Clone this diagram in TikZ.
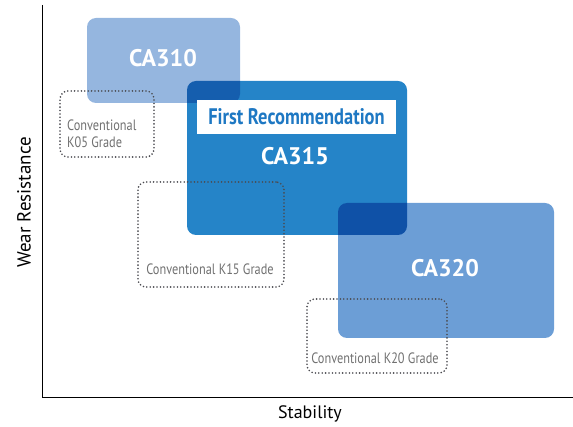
\documentclass[tikz,border=0pt]{standalone}
\usepackage{fontspec}
\setmainfont{PT Sans}
\newfontfamily\condfont[FakeStretch=0.82]{PT Sans}
\usetikzlibrary{positioning}
\definecolor{cLight}{RGB}{149,182,223}
\definecolor{cMid}{RGB}{37,132,200}
\definecolor{cSoft}{RGB}{108,158,214}
\definecolor{cDot}{RGB}{75,75,80}
\definecolor{cGrayText}{RGB}{112,112,112}
\definecolor{cRecText}{RGB}{30,120,195}
\tikzset{
  gradebox/.style={rectangle, rounded corners=9pt, draw=none, inner sep=0pt},
  dotbox/.style={rectangle, rounded corners=8pt, draw=cDot, line width=1.8pt,
    dash pattern=on 0pt off 3.4pt, line cap=round, inner sep=0pt},
  gradelabel/.style={text=white, font=\bfseries\fontsize{24}{28}\selectfont},
  convlabel/.style={text=cGrayText, font=\condfont\fontsize{15}{17.5}\selectfont, inner sep=0pt},
  axislabel/.style={text=black}
}
\begin{document}
\begin{tikzpicture}[x=1pt,y=-1pt]
\useasboundingbox (0,0) rectangle (573,427);
% grade boxes
\node[gradebox, fill=cLight, minimum width=153pt, minimum height=85pt] (b310) at (163.5,60.5) {};
\begin{scope}[blend mode=multiply]
\node[gradebox, fill=cMid, minimum width=220pt, minimum height=154pt] (b315) at (297,158) {};
\node[gradebox, fill=cSoft, minimum width=216pt, minimum height=135pt] (b320) at (446,270.5) {};
\end{scope}
% labels
\node[gradelabel] (t310) at (163,58) {CA310};
\node[gradelabel] (t315) at (295,156) {CA315};
\node[gradelabel] (t320) at (445,268) {CA320};
\node[fill=white, minimum width=199pt, minimum height=34pt, inner sep=0pt,
  text=cRecText, font=\condfont\bfseries\fontsize{22.5}{26}\selectfont] (rec) at (296.5,117) {First Recommendation};
% conventional grades
\node[dotbox, minimum width=94pt, minimum height=66pt] (k05) at (107,124) {};
\node[dotbox, minimum width=146pt, minimum height=105pt] (k15) at (211,234.5) {};
\node[dotbox, minimum width=140pt, minimum height=74pt] (k20) at (377,336) {};
\node[convlabel, align=left, anchor=west] (tk05) at (67,134) {Conventional\\K05 Grade};
\node[convlabel] (tk15) at (210,269) {Conventional K15 Grade};
\node[convlabel] (tk20) at (375,358) {Conventional K20 Grade};
% axes
\coordinate (ytop) at (42,5);
\coordinate (orig) at (42,398);
\coordinate (xend) at (573,398);
\draw[line width=1pt, black] (ytop) -- (orig) -- (xend);
\node[axislabel, font=\fontsize{18}{21}\selectfont] (xl) at (310,414) {Stability};
\node[axislabel, rotate=90, font=\fontsize{19}{22}\selectfont] (yl) at (24,202.5) {Wear Resistance};
\end{tikzpicture}
\end{document}
